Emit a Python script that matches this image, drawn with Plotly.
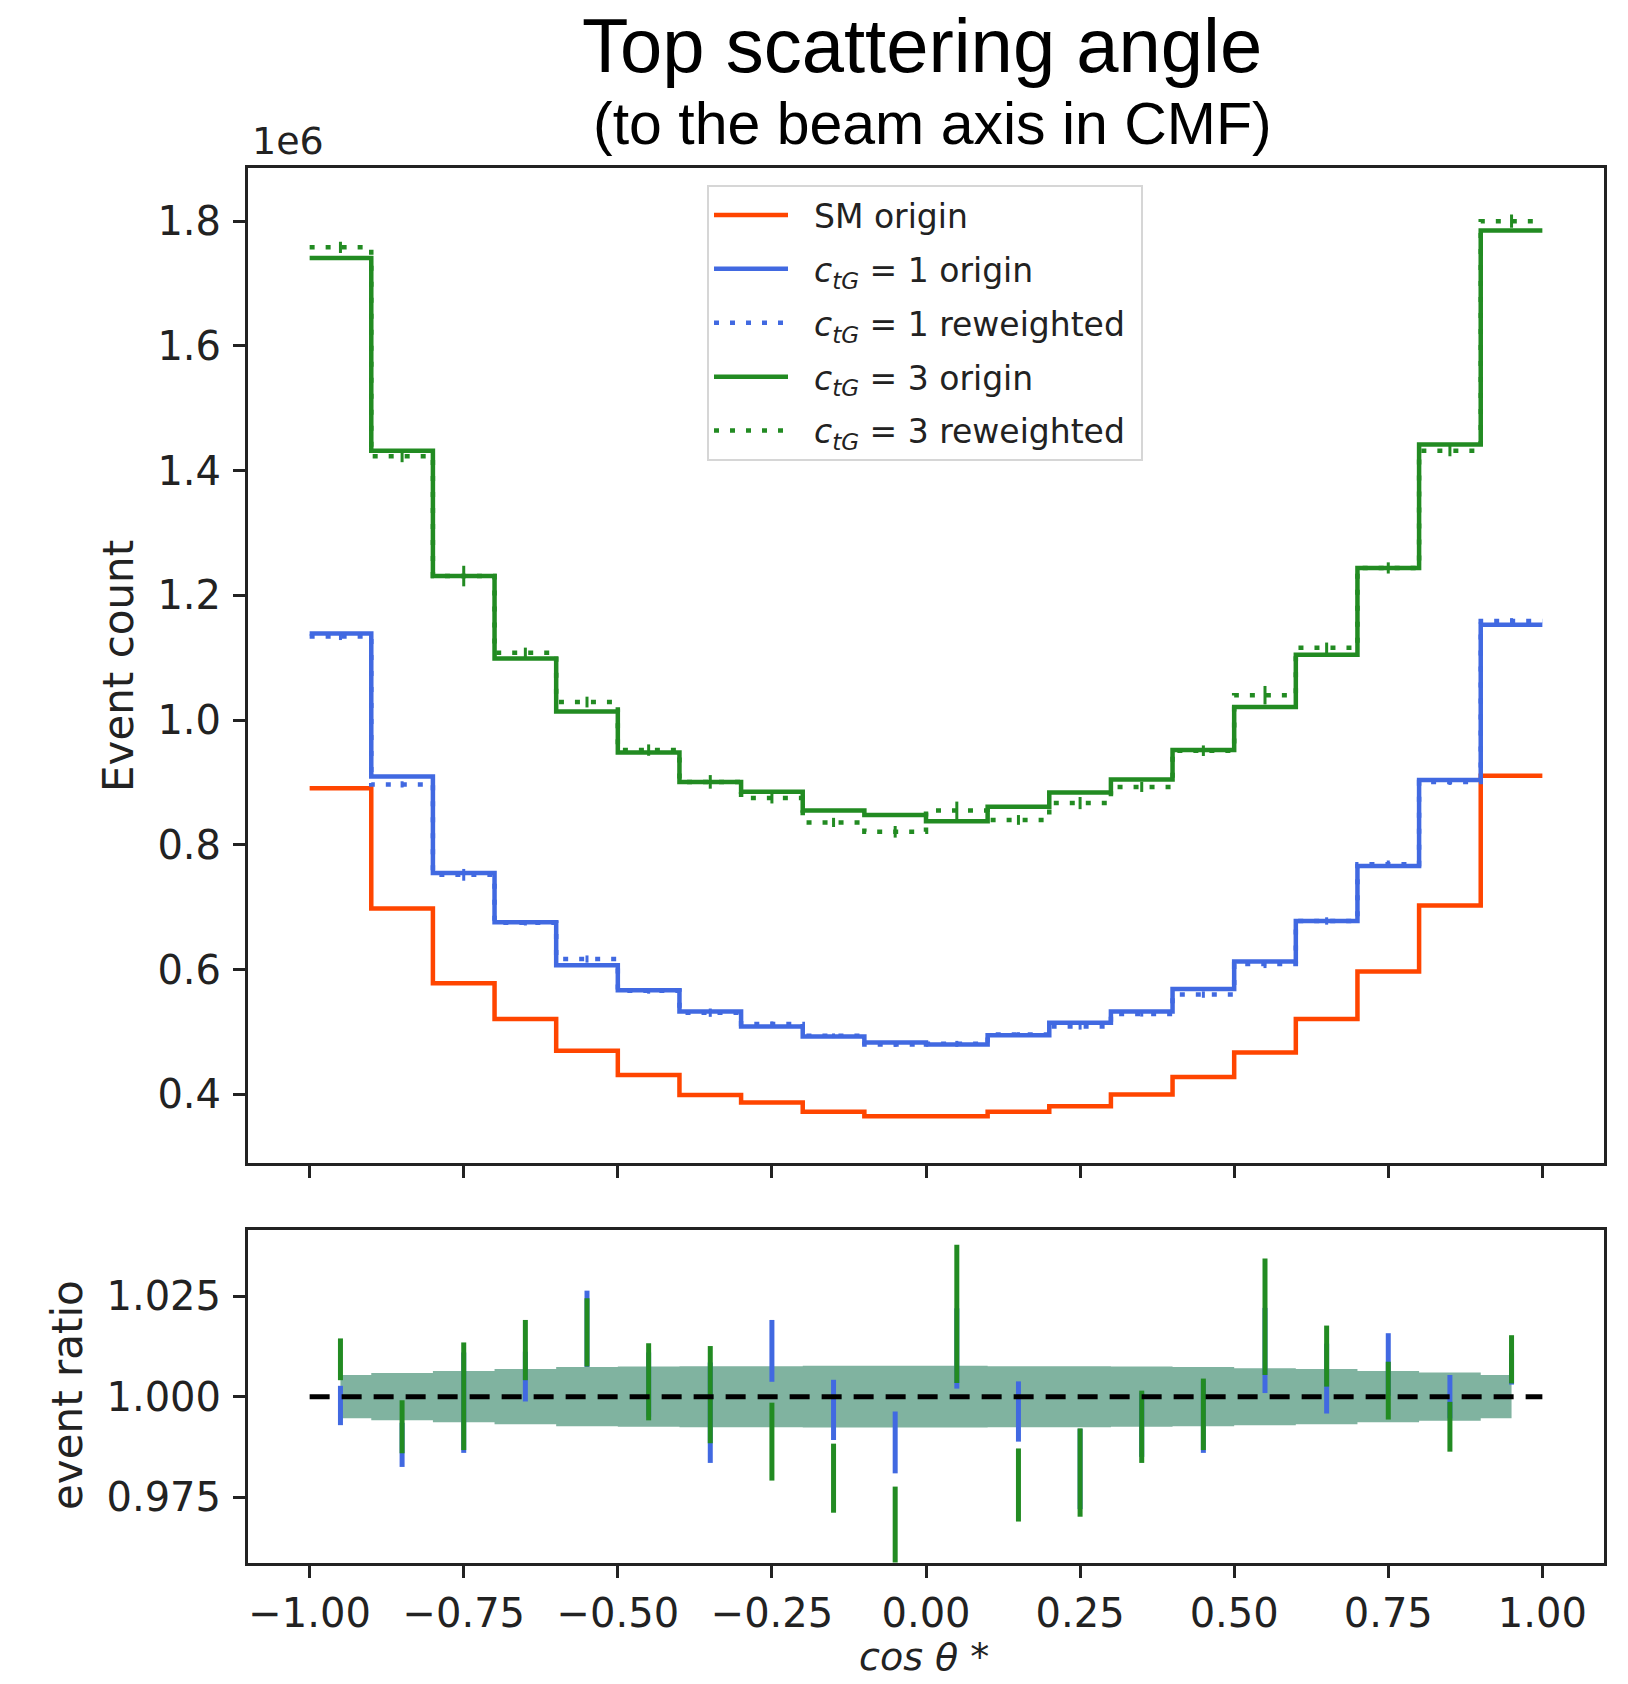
import plotly.graph_objects as go

# Histogram binning in cos(theta*)
bin_edges = [-1.0, -0.9, -0.8, -0.7, -0.6, -0.5, -0.4, -0.3, -0.2, -0.1, 0.0,
             0.1, 0.2, 0.3, 0.4, 0.5, 0.6, 0.7, 0.8, 0.9, 1.0]
bin_centers = [-0.95, -0.85, -0.75, -0.65, -0.55, -0.45, -0.35, -0.25, -0.15, -0.05,
               0.05, 0.15, 0.25, 0.35, 0.45, 0.55, 0.65, 0.75, 0.85, 0.95]

# Event counts per bin (units of 1e6)
sm_origin = [0.891, 0.698, 0.578, 0.521, 0.470, 0.431, 0.399, 0.387, 0.372, 0.365,
             0.365, 0.372, 0.381, 0.400, 0.428, 0.467, 0.521, 0.597, 0.703, 0.911]
ctg1_origin = [1.139, 0.9095, 0.755, 0.676, 0.607, 0.567, 0.533, 0.509, 0.493, 0.483,
               0.480, 0.495, 0.515, 0.533, 0.569, 0.613, 0.678, 0.766, 0.904, 1.153]
ctg1_reweighted = [1.134, 0.897, 0.752, 0.675, 0.617, 0.566, 0.531, 0.513, 0.494, 0.480,
                   0.481, 0.496, 0.509, 0.529, 0.560, 0.609, 0.678, 0.769, 0.901, 1.159]
ctg3_origin = [1.741, 1.432, 1.231, 1.099, 1.014, 0.948, 0.901, 0.885, 0.855, 0.848,
               0.838, 0.861, 0.884, 0.905, 0.952, 1.021, 1.105, 1.244, 1.442, 1.785]
ctg3_reweighted = [1.758, 1.423, 1.231, 1.108, 1.029, 0.952, 0.901, 0.875, 0.836, 0.821,
                   0.855, 0.840, 0.867, 0.893, 0.951, 1.040, 1.116, 1.244, 1.432, 1.800]

# Reweighted / origin ratios with uncertainties
ratio_ctg1 = [0.9978, 0.9880, 0.9985, 1.0050, 1.0169, 1.0030, 0.9960, 1.0114, 0.9967, 0.9886,
              1.0120, 0.9963, 0.9820, 0.9930, 0.9950, 1.0115, 1.0045, 1.0080, 1.0000, 1.0069]
ratio_err_ctg1 = [0.0049, 0.0055, 0.0125, 0.0062, 0.0095, 0.0080, 0.0125, 0.0077, 0.0075, 0.0077,
                  0.0100, 0.0075, 0.0100, 0.0080, 0.0090, 0.0106, 0.0087, 0.0078, 0.0054, 0.0039]
ratio_ctg3 = [1.0093, 0.9925, 1.0001, 1.0116, 1.0160, 1.0037, 1.0005, 0.9888, 0.9797, 0.9666,
              1.0206, 0.9780, 0.9811, 0.9925, 0.9956, 1.0199, 1.0101, 1.0015, 0.9925, 1.0093]
ratio_err_ctg3 = [0.0052, 0.0066, 0.0134, 0.0075, 0.0085, 0.0096, 0.0121, 0.0097, 0.0086, 0.0110,
                  0.0172, 0.0091, 0.0110, 0.0090, 0.0089, 0.0145, 0.0076, 0.0072, 0.0062, 0.0060]
# Half-width of the reference uncertainty band around unity
band_halfwidth = [0.0054, 0.0059, 0.0064, 0.0069, 0.0074, 0.0075, 0.0076, 0.0076, 0.0077, 0.0077,
                  0.0077, 0.0076, 0.0076, 0.0075, 0.0074, 0.0071, 0.0069, 0.0064, 0.0060, 0.0054]

x_ticks = [-1.0, -0.75, -0.5, -0.25, 0.0, 0.25, 0.5, 0.75, 1.0]
y_ticks_top = [0.4, 0.6, 0.8, 1.0, 1.2, 1.4, 1.6, 1.8]
y_ticks_ratio = [0.975, 1.0, 1.025]

W, H = 1628, 1684
RED = "#ff4500"
BLUE = "#4169e1"
GREEN = "#228b22"
BAND = "#80b3a0"
FONT = "DejaVu Sans"
TICK_FONT = dict(family=FONT, size=40, color="#222")
PAD = "\u00a0\u00a0"  # gap between legend handle and label
TAIL = "\u00a0"       # right padding inside the legend frame


def step_xy(values):
    """Edges/values for a histogram outline drawn with an 'hv' line."""
    return list(bin_edges), list(values) + [values[-1]]


def px_x(p):
    return p / W


def px_y(p):
    return 1 - p / H


fig = go.Figure()

# --- upper panel: event counts -------------------------------------------
series = [
    ("SM origin", sm_origin, RED, "solid", None),
    ("<i>c</i><sub><i>tG</i></sub> = 1 origin", ctg1_origin, BLUE, "solid", None),
    ("<i>c</i><sub><i>tG</i></sub> = 1 reweighted", ctg1_reweighted, BLUE, "5px,11px",
     (ratio_err_ctg1, ctg1_origin)),
    ("<i>c</i><sub><i>tG</i></sub> = 3 origin", ctg3_origin, GREEN, "solid", None),
    ("<i>c</i><sub><i>tG</i></sub> = 3 reweighted", ctg3_reweighted, GREEN, "5px,11px",
     (ratio_err_ctg3, ctg3_origin)),
]

for i, (name, vals, color, dash, err) in enumerate(series):
    xs, ys = step_xy(vals)
    fig.add_trace(go.Scatter(
        x=xs, y=ys, mode="lines", name=PAD + name + TAIL, line_shape="hv",
        line=dict(color=color, width=4.5, dash=dash),
        legendgroup=f"g{i}", xaxis="x", yaxis="y",
    ))
    if err is not None:
        rel, base = err
        fig.add_trace(go.Scatter(
            x=bin_centers, y=vals, mode="markers", marker=dict(size=0.1, color=color),
            error_y=dict(type="data", array=[r * b for r, b in zip(rel, base)],
                         color=color, thickness=3, width=0),
            showlegend=False, legendgroup=f"g{i}", xaxis="x", yaxis="y", hoverinfo="skip",
        ))

# --- lower panel: ratios -------------------------------------------------
lower = [1 - b for b in band_halfwidth]
upper = [1 + b for b in band_halfwidth]
fig.add_trace(go.Scatter(x=bin_centers, y=lower, mode="lines", line_shape="hvh",
                         line=dict(width=0, color=BAND), showlegend=False,
                         xaxis="x2", yaxis="y2", hoverinfo="skip"))
fig.add_trace(go.Scatter(x=bin_centers, y=upper, mode="lines", line_shape="hvh",
                         line=dict(width=0, color=BAND), fill="tonexty", fillcolor=BAND,
                         showlegend=False, xaxis="x2", yaxis="y2", hoverinfo="skip"))

for ratio, rerr, color in [(ratio_ctg1, ratio_err_ctg1, BLUE), (ratio_ctg3, ratio_err_ctg3, GREEN)]:
    fig.add_trace(go.Scatter(
        x=bin_centers, y=ratio, mode="markers", marker=dict(size=0.1, color=color),
        error_y=dict(type="data", array=rerr, color=color, thickness=5, width=0),
        showlegend=False, xaxis="x2", yaxis="y2", hoverinfo="skip",
    ))

fig.add_trace(go.Scatter(x=[bin_edges[0], bin_edges[-1]], y=[1.0, 1.0], mode="lines",
                         line=dict(color="black", width=5, dash="20px,12px"),
                         showlegend=False, xaxis="x2", yaxis="y2", hoverinfo="skip"))

x_dom = [px_x(248), px_x(1604)]
axis_common = dict(showline=True, mirror=True, linecolor="#222", linewidth=3,
                   ticks="outside", ticklen=12, tickwidth=3, tickcolor="#222",
                   showgrid=False, zeroline=False, tickfont=TICK_FONT)

fig.update_layout(
    width=W, height=H,
    margin=dict(l=0, r=0, t=0, b=0),
    paper_bgcolor="white", plot_bgcolor="white",
    font=dict(family=FONT, color="#222"),
    xaxis=dict(domain=x_dom, range=[-1.1, 1.1], anchor="y", tickvals=x_ticks,
               showticklabels=False, **axis_common),
    yaxis=dict(domain=[px_y(1163), px_y(167.5)], range=[0.290, 1.886], anchor="x",
               tickvals=y_ticks_top, ticktext=[f"{v:.1f}" for v in y_ticks_top],
               ticklabelstandoff=4, **axis_common),
    xaxis2=dict(domain=x_dom, range=[-1.1, 1.1], anchor="y2", tickvals=x_ticks,
                ticktext=[f"{v:.2f}".replace("-", "\u2212") for v in x_ticks],
                ticklabelstandoff=1, **axis_common),
    yaxis2=dict(domain=[px_y(1562.5), px_y(1229.6)], range=[0.9587, 1.0416], anchor="x2",
                tickvals=y_ticks_ratio, ticktext=[f"{v:.3f}" for v in y_ticks_ratio],
                ticklabelstandoff=4, **axis_common),
    legend=dict(x=px_x(707), y=px_y(185), xanchor="left", yanchor="top",
                bgcolor="rgba(255,255,255,0.85)", bordercolor="#d6d6d6", borderwidth=2,
                font=dict(family=FONT, size=33, color="#222"),
                itemwidth=74, traceorder="grouped", tracegroupgap=8),
    showlegend=True,
)

annotations = [
    dict(text="Top scattering angle", x=px_x(922), y=px_y(46),
         font=dict(family="Liberation Sans", size=76, color="black")),
    dict(text="(to the beam axis in CMF)", x=px_x(932), y=px_y(124),
         font=dict(family="Liberation Sans", size=59, color="black")),
    dict(text="1e6", x=px_x(250), y=px_y(141), xanchor="left",
         font=dict(family=FONT, size=38, color="#222")),
    dict(text="Event count", x=px_x(118), y=px_y(666), textangle=-90,
         font=dict(family=FONT, size=42, color="#222")),
    dict(text="event ratio", x=px_x(67), y=px_y(1395), textangle=-90,
         font=dict(family=FONT, size=42, color="#222")),
    dict(text="<i>cos θ</i> *", x=px_x(924), y=px_y(1657),
         font=dict(family=FONT, size=38, color="#222")),
]
for a in annotations:
    a.setdefault("xanchor", "center")
    fig.add_annotation(xref="paper", yref="paper", showarrow=False, yanchor="middle", **a)

fig.write_html("out.html")
